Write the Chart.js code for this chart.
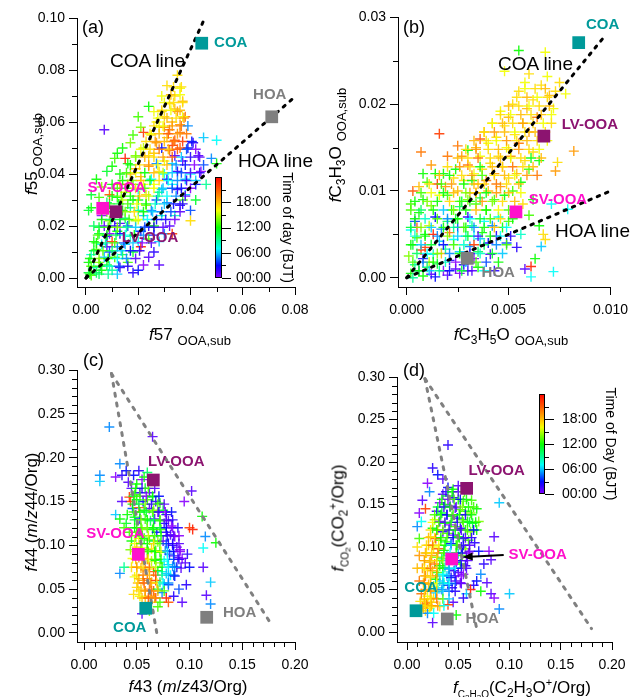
<!DOCTYPE html>
<html>
<head>
<meta charset="utf-8">
<script src="https://cdn.jsdelivr.net/npm/chart.js@4/dist/chart.umd.min.js"></script>
<style>
  body { margin: 0; background: #fff; }
  #fig { position: relative; width: 635px; height: 697px; overflow: hidden;
         font-family: 'Liberation Sans', Arial, sans-serif; color: #000; }
  #fig canvas { position: absolute; left: 0; top: 0; }
  .t { position: absolute; white-space: nowrap; line-height: 1; }
  .l { transform: translate(0, -50%); }
  .c { transform: translate(-50%, -50%); }
  .v { transform: translate(-50%, -50%) rotate(-90deg); }
  .pl { font-size: 18px; }
  .ln { font-size: 19px; }
  .ax { font-size: 17px; }
  .ax sub { font-size: 12px; vertical-align: baseline; position: relative; top: 4px; }
  .ax sup { font-size: 11px; vertical-align: baseline; position: relative; top: -7px; }
  .ax .sb { font-size: 13px; position: relative; top: 5px; margin-left: 5px; }
  .ax .fs { font-size: 10px; vertical-align: baseline; position: relative; top: 5px; }
  .ax .fs sub { font-size: 8px; top: 2px; }
</style>
</head>
<body>
<div id="fig">
  <canvas id="chartA" width="635" height="697"></canvas>
  <canvas id="chartB" width="635" height="697"></canvas>
  <canvas id="chartC" width="635" height="697"></canvas>
  <canvas id="chartD" width="635" height="697"></canvas>

  <div class="t l pl" style="left:82px;top:27px">(a)</div>
  <div class="t l pl" style="left:403px;top:27px">(b)</div>
  <div class="t l pl" style="left:83px;top:360px">(c)</div>
  <div class="t l pl" style="left:403px;top:370px">(d)</div>

  <div class="t l ln" style="left:110px;top:60px">COA line</div>
  <div class="t l ln" style="left:238px;top:160px">HOA line</div>
  <div class="t l ln" style="left:498px;top:63px">COA line</div>
  <div class="t l ln" style="left:555px;top:230px">HOA line</div>

  <div class="t c ax" style="left:190px;top:334px"><i>f</i>57<span class="sb">OOA,sub</span></div>
  <div class="t v ax" style="left:31px;top:154px"><i>f</i>55<span class="sb">OOA,sub</span></div>
  <div class="t c ax" style="left:511px;top:334px"><i>f</i>C<sub>3</sub>H<sub>5</sub>O<span class="sb">OOA,sub</span></div>
  <div class="t v ax" style="left:335px;top:145px"><i>f</i>C<sub>3</sub>H<sub>3</sub>O<span class="sb">OOA,sub</span></div>
  <div class="t c ax" style="left:188px;top:686px"><i>f</i>43 (<i>m</i>/<i>z</i>43/Org)</div>
  <div class="t v ax" style="left:31px;top:512px"><i>f</i>44 (<i>m</i>/<i>z</i>44/Org)</div>
  <div class="t c ax" style="left:522px;top:687px"><i>f</i><span class="fs">C<sub>2</sub>H<sub>3</sub>O</span>(C<sub>2</sub>H<sub>3</sub>O<sup>+</sup>/Org)</div>
  <div class="t v ax" style="left:338px;top:518px"><i>f</i><span class="fs">CO<sub>2</sub></span>(CO<sub>2</sub><sup>+</sup>/Org)</div>
</div>

<script>
// ---- factor profiles (same order in every panel) ----
const factorNames = ['COA', 'HOA', 'SV-OOA', 'LV-OOA'];
const factorColors = ['#009a9a', '#7f7f7f', '#ff10cc', '#8c1470'];

// colour bar ticks
const cbHours = [0, 6, 12, 18];
const cbLabels = ['00:00', '06:00', '12:00', '18:00'];

// ---- (a) f55 vs f57 ----
const aFactorX = [0.0443, 0.0711, 0.0064, 0.0115];
const aFactorY = [0.0903, 0.0620, 0.0268, 0.0255];
const aCoaLine = [[0, 0], [0.0455, 0.100]];
const aHoaLine = [[0, 0], [0.080, 0.0697]];
const aXTicks = [0, 0.02, 0.04, 0.06, 0.08];
const aXMinor = [0.01, 0.03, 0.05, 0.07];
const aYTicks = [0, 0.02, 0.04, 0.06, 0.08, 0.10];
const aYMinor = [0.01, 0.03, 0.05, 0.07, 0.09];
// [f57, f55, hour of day]
const aCloud = [
  [0.001,0.002,11],[0.002,0.001,13],[0.003,0.004,9],[0.001,0.006,12],[0.004,0.002,10],[0.005,0.006,14],
  [0.002,0.009,8],[0.006,0.003,12],[0.007,0.008,6],[0.004,0.011,13],[0.008,0.005,11],[0.009,0.010,4],
  [0.003,0.014,12],[0.006,0.013,7],[0.010,0.003,9],[0.011,0.008,13],[0.012,0.012,5],[0.005,0.017,11],
  [0.008,0.016,3],[0.013,0.004,2],[0.014,0.009,10],[0.010,0.014,22],[0.007,0.020,1],[0.012,0.018,12],
  [0.015,0.013,6],[0.016,0.006,13],[0.003,0.020,10],[0.009,0.022,14],[0.017,0.016,8],[0.013,0.021,1],
  [0.006,0.024,0],[0.018,0.010,11],[0.011,0.025,13],[0.016,0.020,4],[0.020,0.014,7],[0.002,0.027,12],
  [0.001,0.026,11],[0.014,0.026,12],[0.019,0.022,15],[0.008,0.029,10],[0.021,0.018,3],[0.005,0.031,13],
  [0.017,0.027,9],[0.022,0.024,6],[0.012,0.031,12],[0.024,0.020,2],[0.015,0.033,16],[0.020,0.030,11],
  [0.010,0.036,12],[0.025,0.026,5],[0.018,0.036,13],[0.023,0.032,17],[0.008,0.041,11],[0.013,0.040,12],
  [0.027,0.030,4],[0.021,0.039,18],[0.016,0.044,12],[0.026,0.036,16],[0.011,0.046,13],[0.019,0.047,14],
  [0.029,0.034,6],[0.024,0.043,19],[0.014,0.050,12],[0.031,0.038,3],[0.028,0.041,17],[0.022,0.050,15],
  [0.018,0.055,13],[0.026,0.048,18],[0.033,0.036,7],[0.030,0.045,16],[0.021,0.058,14],[0.035,0.041,2],
  [0.032,0.049,20],[0.025,0.055,17],[0.028,0.058,16],[0.034,0.053,21],[0.037,0.045,1],[0.030,0.062,17],
  [0.036,0.056,20],[0.026,0.064,16],[0.033,0.060,18],[0.039,0.050,3],[0.032,0.067,17],[0.035,0.064,19],
  [0.029,0.070,16],[0.034,0.070,17],[0.037,0.068,18],[0.031,0.074,17],[0.035,0.078,17],[0.036,0.073,16],
  [0.038,0.062,20],
  [0.041,0.052,2],[0.043,0.047,1],[0.045,0.054,6],[0.050,0.053,7],[0.048,0.046,5],[0.050,0.044,12],
  [0.044,0.041,0],[0.040,0.040,7],[0.042,0.036,3],[0.038,0.032,6],[0.036,0.028,2],[0.040,0.026,4],
  [0.034,0.024,8],[0.032,0.020,1],[0.030,0.017,5],[0.028,0.014,6],[0.026,0.010,2],[0.024,0.008,1],
  [0.022,0.005,0],[0.020,0.003,3],[0.018,0.002,2],[0.028,0.005,1],[0.040,0.022,17],[0.033,0.017,22],
  [0.037,0.030,13],[0.046,0.036,9],[0.042,0.030,11],[0.029,0.024,8],[0.031,0.029,5],[0.035,0.034,2],
  [0.038,0.038,6],[0.026,0.020,12],[0.024,0.015,13],[0.021,0.012,23],
  [0.007,0.057,1],[0.010,0.043,12],[0.004,0.038,12],[0.002,0.032,11],[0.006,0.035,14],[0.012,0.048,12],
  [0.017,0.052,14],[0.020,0.062,13],[0.024,0.066,12],[0.022,0.056,22],[0.015,0.046,23],[0.009,0.032,21],
  [0.013,0.036,19],[0.017,0.040,18],
  [0.020,0.026,9],[0.022,0.036,16],[0.023,0.028,14],[0.025,0.038,7],[0.027,0.044,5],[0.029,0.050,3],
  [0.031,0.054,18],[0.033,0.044,6],[0.027,0.052,19],[0.024,0.047,17],[0.019,0.042,18],[0.016,0.036,20],
  [0.014,0.030,15],[0.011,0.020,2],[0.009,0.017,0],[0.008,0.012,1],[0.013,0.017,3],[0.015,0.023,10],
  [0.018,0.030,12],[0.020,0.034,8],[0.028,0.033,9],[0.030,0.040,7],[0.034,0.047,1],[0.036,0.050,21],
  [0.032,0.057,20],[0.034,0.065,18],[0.029,0.064,17],[0.027,0.060,16],[0.030,0.058,19],[0.033,0.051,22],
  [0.036,0.059,19],[0.037,0.062,16],
  // denser core
  [0.0015,0.0015,12],[0.005,0.0015,10],[0.0085,0.0015,9],[0.012,0.0015,6],
  [0.002,0.0045,13],[0.0055,0.0045,11],[0.009,0.0045,8],[0.0125,0.0045,4],[0.016,0.0045,2],
  [0.0015,0.0075,12],[0.005,0.0075,14],[0.0085,0.0075,12],[0.012,0.0075,7],[0.0155,0.0075,5],[0.019,0.0075,1],
  [0.003,0.0105,11],[0.0065,0.0105,13],[0.010,0.0105,10],[0.0135,0.0105,6],[0.017,0.0105,3],[0.0205,0.0105,2],
  [0.004,0.0135,12],[0.0075,0.0135,9],[0.011,0.0135,13],[0.0145,0.0135,4],[0.018,0.0135,6],[0.0215,0.0135,0],[0.025,0.0135,1],
  [0.0045,0.0165,13],[0.008,0.0165,12],[0.0115,0.0165,10],[0.015,0.0165,7],[0.0185,0.0165,12],[0.022,0.0165,5],[0.026,0.0165,3],
  [0.005,0.0195,11],[0.0085,0.0195,13],[0.012,0.0195,14],[0.0155,0.0195,9],[0.019,0.0195,6],[0.0225,0.0195,4],[0.026,0.0195,2],[0.0295,0.0195,1],
  [0.006,0.0225,12],[0.0095,0.0225,10],[0.013,0.0225,11],[0.0165,0.0225,13],[0.020,0.0225,16],[0.0235,0.0225,7],[0.027,0.0225,3],[0.0305,0.0225,2],[0.034,0.0225,0],
  [0.008,0.0255,13],[0.0115,0.0255,12],[0.015,0.0255,14],[0.0185,0.0255,17],[0.022,0.0255,12],[0.0255,0.0255,6],[0.029,0.0255,5],[0.0325,0.0255,4],[0.036,0.0255,1],
  [0.009,0.0285,12],[0.0125,0.0285,11],[0.016,0.0285,13],[0.0195,0.0285,16],[0.023,0.0285,12],[0.0265,0.0285,8],[0.030,0.0285,6],[0.0335,0.0285,3],[0.037,0.0285,2],
  [0.010,0.0315,12],[0.0135,0.0315,14],[0.017,0.0315,12],[0.0205,0.0315,18],[0.024,0.0315,15],[0.0275,0.0315,9],[0.031,0.0315,7],[0.0345,0.0315,5],[0.038,0.0315,1],
  [0.012,0.0345,13],[0.0155,0.0345,11],[0.019,0.0345,17],[0.0225,0.0345,13],[0.026,0.0345,16],[0.0295,0.0345,6],[0.033,0.0345,4],[0.0365,0.0345,3],[0.040,0.0345,0],
  [0.014,0.0375,12],[0.0175,0.0375,14],[0.021,0.0375,18],[0.0245,0.0375,12],[0.028,0.0375,17],[0.0315,0.0375,7],[0.035,0.0375,5],[0.0385,0.0375,2],[0.042,0.0375,6],
  [0.0155,0.0405,13],[0.019,0.0405,16],[0.0225,0.0405,12],[0.026,0.0405,18],[0.0295,0.0405,15],[0.033,0.0405,6],[0.0365,0.0405,4],[0.040,0.0405,1],[0.0435,0.0405,2],
  [0.017,0.0435,12],[0.0205,0.0435,17],[0.024,0.0435,19],[0.0275,0.0435,16],[0.031,0.0435,18],[0.0345,0.0435,5],[0.038,0.0435,3],[0.0415,0.0435,0],[0.045,0.0435,4],
  [0.019,0.0465,14],[0.0225,0.0465,18],[0.026,0.0465,17],[0.0295,0.0465,19],[0.033,0.0465,21],[0.0365,0.0465,6],[0.040,0.0465,2],[0.0435,0.0465,1],
  [0.021,0.0495,16],[0.0245,0.0495,17],[0.028,0.0495,20],[0.0315,0.0495,18],[0.035,0.0495,21],[0.0385,0.0495,4],[0.042,0.0495,0],
  [0.023,0.0525,17],[0.0265,0.0525,19],[0.030,0.0525,18],[0.0335,0.0525,20],[0.037,0.0525,22],[0.0405,0.0525,3],
  [0.0245,0.0555,16],[0.028,0.0555,18],[0.0315,0.0555,21],[0.035,0.0555,19],[0.0385,0.0555,20],
  [0.026,0.0585,17],[0.0295,0.0585,16],[0.033,0.0585,19],[0.0365,0.0585,20],[0.039,0.0585,5],
  [0.0275,0.0615,16],[0.031,0.0615,18],[0.0345,0.0615,17],[0.0375,0.0615,19],
  [0.029,0.0645,17],[0.0325,0.0645,16],[0.036,0.0645,18],
  [0.030,0.0675,16],[0.0335,0.0675,17],[0.037,0.0675,17],
  [0.0325,0.0705,18],[0.036,0.0705,16],[0.0335,0.0735,17],[0.0365,0.0735,17]
];

// ---- (b) fC3H3O vs fC3H5O ----
const bFactorX = [0.00844, 0.00297, 0.00536, 0.00673];
const bFactorY = [0.0271, 0.00224, 0.0076, 0.01633];
const bCoaLine = [[0, 0], [0.0097, 0.0278]];
const bHoaLine = [[0, 0], [0.0100, 0.0100]];
const bXTicks = [0, 0.005, 0.010];
const bXMinor = [0.0025, 0.0075];
const bYTicks = [0, 0.01, 0.02, 0.03];
const bYMinor = [0.005, 0.015, 0.025];
// [fC3H5O, fC3H3O, hour of day]
const bCloud = [
  [0.0002,0.0005,12],[0.0004,0.0015,9],[0.0001,0.0025,14],[0.0006,0.0008,5],[0.0003,0.0038,11],[0.0008,0.0022,2],
  [0.0005,0.0046,13],[0.0010,0.0012,10],[0.0002,0.0055,7],[0.0007,0.0032,22],[0.0012,0.0004,1],[0.0009,0.0050,12],
  [0.0004,0.0065,4],[0.0013,0.0027,8],[0.0011,0.0060,15],[0.0006,0.0075,12],[0.0015,0.0016,11],[0.0016,0.0042,6],
  [0.0002,0.0085,13],[0.0014,0.0070,3],[0.0018,0.0008,0],[0.0008,0.0090,12],[0.0019,0.0033,9],[0.0017,0.0056,5],
  [0.0003,0.0100,21],[0.0012,0.0083,14],[0.0021,0.0020,2],[0.0020,0.0065,10],[0.0006,0.0105,18],[0.0023,0.0044,7],
  [0.0016,0.0095,16],[0.0024,0.0010,1],[0.0022,0.0078,12],[0.0010,0.0110,13],[0.0026,0.0030,6],[0.0025,0.0058,4],
  [0.0019,0.0105,19],[0.0028,0.0015,3],[0.0027,0.0088,11],[0.0029,0.0048,8],[0.0014,0.0120,12],[0.0031,0.0036,5],
  [0.0030,0.0070,2],[0.0023,0.0115,17],[0.0033,0.0022,0],[0.0032,0.0060,9],[0.0034,0.0085,13],[0.0036,0.0045,6],
  [0.0035,0.0030,10],[0.0038,0.0065,7],[0.0037,0.0052,12],[0.0040,0.0040,3],[0.0039,0.0078,14],[0.0042,0.0060,5],
  [0.0041,0.0027,1],[0.0044,0.0048,2],[0.0045,0.0070,8],[0.0047,0.0058,12],[0.0049,0.0040,4],[0.0050,0.0065,13],
  [0.0003,0.0000,9],[0.0008,0.0002,12],[0.0014,0.0001,3],[0.0020,0.0003,1],[0.0026,0.0005,0],[0.0030,0.0008,2],
  [0.0035,0.0012,12],[0.0009,0.0035,22],[0.0013,0.0050,23],[0.0005,0.0058,21],[0.0021,0.0052,20],[0.0017,0.0028,18],
  [0.0028,0.0038,16],[0.0011,0.0018,15],[0.0024,0.0068,11],[0.0029,0.0058,12],[0.0033,0.0048,7],
  [0.0025,0.0100,18],[0.0028,0.0112,17],[0.0031,0.0098,19],[0.0033,0.0120,16],[0.0030,0.0130,20],[0.0035,0.0108,18],
  [0.0037,0.0125,17],[0.0027,0.0140,19],[0.0036,0.0140,16],[0.0039,0.0112,20],[0.0041,0.0132,17],[0.0034,0.0150,18],
  [0.0043,0.0120,19],[0.0040,0.0155,16],[0.0045,0.0140,17],[0.0038,0.0168,18],[0.0047,0.0128,20],[0.0044,0.0162,17],
  [0.0049,0.0150,16],[0.0042,0.0178,18],[0.0048,0.0175,17],[0.0051,0.0140,19],[0.0046,0.0192,16],[0.0053,0.0165,17],
  [0.0050,0.0185,18],[0.0055,0.0155,20],[0.0052,0.0200,17],[0.0057,0.0178,16],[0.0055,0.0215,17],[0.0059,0.0195,18],
  [0.0060,0.0168,19],[0.0058,0.0225,16],[0.0062,0.0205,17],[0.0064,0.0185,20],[0.0066,0.0222,17],[0.0069,0.0232,16],
  [0.0070,0.0210,18],[0.0073,0.0215,17],[0.0072,0.0195,16],[0.0068,0.0260,16],[0.0060,0.0235,17],[0.0055,0.0262,12],
  [0.0048,0.0238,16],
  [0.0015,0.0108,22],[0.0018,0.0120,12],[0.0020,0.0095,13],[0.0024,0.0125,12],[0.0026,0.0082,10],[0.0030,0.0090,14],
  [0.0032,0.0112,12],[0.0034,0.0098,21],[0.0036,0.0092,11],[0.0040,0.0100,18],[0.0043,0.0090,13],[0.0046,0.0105,19],
  [0.0048,0.0095,12],[0.0050,0.0115,17],[0.0052,0.0100,13],[0.0054,0.0120,18],[0.0056,0.0110,12],[0.0058,0.0135,17],
  [0.0060,0.0125,13],[0.0062,0.0145,17],[0.0064,0.0118,20],[0.0065,0.0135,12],[0.0020,0.0140,20],[0.0030,0.0147,12],
  [0.0025,0.0152,20],[0.0036,0.0160,21],[0.0012,0.0130,19],[0.0008,0.0120,12],
  [0.0016,0.0166,22],[0.0007,0.0145,20],[0.0082,0.0146,19],[0.0061,0.0013,23],[0.0058,0.0010,1],[0.0063,0.0022,12],
  [0.0061,0.0001,7],[0.0072,0.0007,7],[0.0071,0.0085,7],[0.0079,0.0079,7],[0.0067,0.0050,17],[0.0068,0.0044,17],
  [0.0074,0.0133,17],[0.0073,0.0123,19],[0.0066,0.0036,6],[0.0065,0.0060,12],[0.0060,0.0072,13],[0.0056,0.0050,8],
  [0.0054,0.0035,2],[0.0062,0.0090,12],[0.0057,0.0085,17],[0.0075,0.0225,17],[0.0078,0.0212,16],
  // denser core
  [0.0006,0.0008,12],[0.0011,0.0008,6],[0.0016,0.0008,9],[0.0021,0.0008,3],[0.0027,0.0008,11],[0.0032,0.0008,1],[0.0038,0.0008,7],[0.0043,0.0008,2],
  [0.0003,0.0018,13],[0.0008,0.0018,5],[0.0013,0.0018,12],[0.0019,0.0018,8],[0.0024,0.0018,0],[0.0029,0.0018,6],[0.0034,0.0018,13],[0.0039,0.0018,4],[0.0045,0.0018,12],
  [0.0005,0.0028,10],[0.0010,0.0028,7],[0.0015,0.0028,14],[0.0021,0.0028,5],[0.0026,0.0028,12],[0.0031,0.0028,2],[0.0036,0.0028,8],[0.0042,0.0028,11],[0.0047,0.0028,6],
  [0.0002,0.0038,12],[0.0007,0.0038,6],[0.0012,0.0038,11],[0.0018,0.0038,3],[0.0023,0.0038,13],[0.0028,0.0038,7],[0.0033,0.0038,22],[0.0038,0.0038,10],[0.0044,0.0038,5],[0.0049,0.0038,13],
  [0.0004,0.0048,8],[0.0009,0.0048,12],[0.0015,0.0048,5],[0.0020,0.0048,14],[0.0025,0.0048,6],[0.0030,0.0048,11],[0.0035,0.0048,1],[0.0041,0.0048,12],[0.0046,0.0048,7],[0.0051,0.0048,2],
  [0.0002,0.0058,11],[0.0007,0.0058,14],[0.0012,0.0058,6],[0.0018,0.0058,12],[0.0023,0.0058,9],[0.0028,0.0058,13],[0.0033,0.0058,5],[0.0038,0.0058,12],[0.0043,0.0058,18],[0.0049,0.0058,7],
  [0.0004,0.0068,12],[0.0009,0.0068,8],[0.0015,0.0068,13],[0.0020,0.0068,5],[0.0025,0.0068,12],[0.0031,0.0068,7],[0.0036,0.0068,11],[0.0041,0.0068,13],[0.0046,0.0068,17],[0.0052,0.0068,12],
  [0.0002,0.0078,13],[0.0007,0.0078,10],[0.0013,0.0078,12],[0.0018,0.0078,6],[0.0023,0.0078,14],[0.0029,0.0078,12],[0.0034,0.0078,18],[0.0039,0.0078,12],[0.0045,0.0078,16],[0.0050,0.0078,13],
  [0.0004,0.0088,12],[0.0010,0.0088,14],[0.0015,0.0088,12],[0.0021,0.0088,17],[0.0026,0.0088,13],[0.0031,0.0088,12],[0.0037,0.0088,19],[0.0042,0.0088,14],[0.0047,0.0088,17],[0.0053,0.0088,18],
  [0.0007,0.0098,13],[0.0012,0.0098,16],[0.0018,0.0098,12],[0.0023,0.0098,18],[0.0029,0.0098,14],[0.0034,0.0098,17],[0.0039,0.0098,12],[0.0044,0.0098,19],[0.0050,0.0098,18],[0.0056,0.0098,16],
  [0.0011,0.0108,17],[0.0017,0.0108,13],[0.0022,0.0108,19],[0.0028,0.0108,12],[0.0033,0.0108,18],[0.0038,0.0108,17],[0.0044,0.0108,20],[0.0049,0.0108,17],[0.0055,0.0108,18],
  [0.0016,0.0118,18],[0.0021,0.0118,12],[0.0027,0.0118,17],[0.0032,0.0118,19],[0.0037,0.0118,13],[0.0043,0.0118,17],[0.0048,0.0118,18],[0.0053,0.0118,16],[0.0059,0.0118,19],
  [0.0020,0.0128,17],[0.0026,0.0128,19],[0.0031,0.0128,17],[0.0036,0.0128,12],[0.0042,0.0128,18],[0.0047,0.0128,17],[0.0052,0.0128,20],[0.0057,0.0128,17],[0.0062,0.0128,18],
  [0.0025,0.0138,18],[0.0030,0.0138,17],[0.0035,0.0138,20],[0.0041,0.0138,17],[0.0046,0.0138,18],[0.0051,0.0138,16],[0.0056,0.0138,17],[0.0061,0.0138,12],[0.0066,0.0138,18],
  [0.0029,0.0148,17],[0.0034,0.0148,19],[0.0040,0.0148,17],[0.0045,0.0148,18],[0.0050,0.0148,17],[0.0055,0.0148,19],[0.0060,0.0148,17],[0.0065,0.0148,16],
  [0.0033,0.0158,18],[0.0039,0.0158,17],[0.0044,0.0158,16],[0.0049,0.0158,19],[0.0054,0.0158,17],[0.0059,0.0158,18],[0.0064,0.0158,17],[0.0069,0.0158,16],
  [0.0038,0.0168,17],[0.0043,0.0168,19],[0.0048,0.0168,18],[0.0053,0.0168,16],[0.0058,0.0168,17],[0.0063,0.0168,18],[0.0068,0.0168,17],
  [0.0042,0.0178,16],[0.0047,0.0178,18],[0.0052,0.0178,17],[0.0057,0.0178,19],[0.0062,0.0178,17],[0.0067,0.0178,16],[0.0071,0.0178,17],
  [0.0046,0.0188,17],[0.0051,0.0188,16],[0.0056,0.0188,18],[0.0061,0.0188,17],[0.0066,0.0188,18],[0.0071,0.0188,16],
  [0.0050,0.0198,18],[0.0055,0.0198,17],[0.0060,0.0198,16],[0.0065,0.0198,17],[0.0070,0.0198,18],
  [0.0054,0.0208,17],[0.0059,0.0208,18],[0.0064,0.0208,16],[0.0069,0.0208,17],
  [0.0058,0.0218,16],[0.0063,0.0218,17],[0.0068,0.0218,18]
];

// ---- (c) f44 vs f43 ----
const cFactorX = [0.0585, 0.1163, 0.0515, 0.0657];
const cFactorY = [0.0282, 0.0179, 0.0897, 0.1745];
const cLeftLine = [[0.026, 0.296], [0.069, 0.0]];
const cRightLine = [[0.026, 0.296], [0.178, 0.009]];
const cXTicks = [0, 0.05, 0.10, 0.15, 0.20];
const cYTicks = [0, 0.05, 0.10, 0.15, 0.20, 0.25, 0.30];
const cXMinor = [0.01,0.02,0.03,0.04,0.06,0.07,0.08,0.09,0.11,0.12,0.13,0.14,0.16,0.17,0.18,0.19];
const cYMinor = [0.01,0.02,0.03,0.04,0.06,0.07,0.08,0.09,0.11,0.12,0.13,0.14,0.16,0.17,0.18,0.19,
                 0.21,0.22,0.23,0.24,0.26,0.27,0.28,0.29];
// [f43, f44, hour of day]
const cCloud = [
  [0.045,0.165,1],[0.050,0.170,12],[0.055,0.175,0],[0.048,0.158,13],[0.053,0.160,2],[0.058,0.165,11],
  [0.062,0.160,1],[0.044,0.150,22],[0.050,0.152,12],[0.056,0.150,3],[0.060,0.152,13],[0.065,0.155,10],
  [0.068,0.150,2],[0.072,0.148,12],[0.046,0.142,4],[0.052,0.143,21],[0.057,0.140,12],[0.062,0.142,1],
  [0.066,0.140,14],[0.070,0.138,0],[0.075,0.140,11],[0.078,0.135,2],[0.048,0.132,11],[0.053,0.130,3],
  [0.058,0.130,13],[0.063,0.128,10],[0.067,0.130,1],[0.072,0.128,12],[0.076,0.125,2],[0.080,0.128,1],
  [0.083,0.122,0],[0.050,0.120,12],[0.055,0.118,14],[0.060,0.120,9],[0.065,0.118,12],[0.069,0.115,3],
  [0.073,0.118,13],[0.078,0.115,2],[0.082,0.112,1],[0.086,0.110,0],[0.052,0.108,16],[0.057,0.108,12],
  [0.062,0.106,13],[0.066,0.105,11],[0.070,0.104,14],[0.075,0.105,1],[0.080,0.102,3],[0.084,0.100,2],
  [0.088,0.098,1],[0.091,0.095,0],[0.050,0.098,18],[0.055,0.097,16],[0.060,0.095,12],[0.064,0.096,17],
  [0.068,0.094,13],[0.072,0.092,12],[0.077,0.094,5],[0.081,0.090,4],[0.085,0.088,2],[0.089,0.086,1],
  [0.093,0.085,0],[0.052,0.086,19],[0.056,0.085,17],[0.060,0.084,20],[0.064,0.082,15],[0.068,0.083,12],
  [0.072,0.080,14],[0.076,0.082,7],[0.080,0.078,6],[0.084,0.076,5],[0.088,0.075,3],[0.092,0.074,1],
  [0.050,0.075,17],[0.054,0.074,18],[0.058,0.072,20],[0.062,0.073,17],[0.066,0.070,21],[0.070,0.071,12],
  [0.074,0.070,8],[0.078,0.068,6],[0.082,0.066,7],[0.086,0.065,3],[0.048,0.064,16],[0.052,0.062,18],
  [0.056,0.060,19],[0.060,0.062,20],[0.064,0.058,18],[0.068,0.060,22],[0.072,0.058,10],[0.076,0.056,6],
  [0.080,0.055,4],[0.050,0.052,17],[0.054,0.050,18],[0.058,0.048,19],[0.062,0.050,20],[0.066,0.048,21],
  [0.070,0.050,12],[0.074,0.046,5],[0.047,0.044,17],[0.053,0.042,16],[0.058,0.040,18],[0.063,0.042,19],
  [0.068,0.040,22],[0.072,0.035,13],[0.078,0.040,23],
  [0.047,0.180,3],[0.052,0.185,2],[0.057,0.178,12],[0.042,0.172,1],[0.060,0.183,10],[0.043,0.155,22],
  [0.041,0.135,12],[0.040,0.125,11],[0.043,0.115,13],[0.045,0.105,12],[0.044,0.095,14],[0.046,0.085,16],
  [0.045,0.075,17],
  [0.024,0.235,5],[0.065,0.224,1],[0.015,0.180,5],[0.015,0.173,6],[0.030,0.178,0],[0.034,0.193,5],
  [0.040,0.185,3],[0.036,0.180,2],[0.036,0.150,1],[0.030,0.135,6],[0.034,0.130,12],[0.038,0.120,13],
  [0.034,0.068,5],[0.038,0.075,9],[0.102,0.162,1],[0.095,0.150,0],[0.112,0.133,12],[0.100,0.120,22],
  [0.103,0.118,23],[0.115,0.110,5],[0.125,0.103,12],[0.113,0.097,7],[0.098,0.090,2],[0.096,0.080,1],
  [0.100,0.075,3],[0.113,0.075,1],[0.120,0.058,6],[0.116,0.043,1],[0.120,0.033,5],[0.093,0.035,1],
  [0.097,0.055,2],[0.090,0.050,4],[0.085,0.042,2],[0.080,0.035,21],[0.070,0.030,13],[0.055,0.022,1],
  [0.062,0.025,14],[0.064,0.035,17],
  // denser core
  [0.049,0.165,12],[0.055,0.165,2],[0.061,0.165,13],[0.067,0.165,1],
  [0.047,0.156,11],[0.053,0.156,13],[0.059,0.156,0],[0.065,0.156,12],[0.071,0.156,3],
  [0.046,0.147,12],[0.052,0.147,10],[0.058,0.147,14],[0.064,0.147,2],[0.070,0.147,13],[0.076,0.147,1],
  [0.047,0.138,13],[0.053,0.138,12],[0.059,0.138,11],[0.065,0.138,13],[0.071,0.138,2],[0.077,0.138,0],[0.083,0.138,3],
  [0.048,0.129,11],[0.054,0.129,14],[0.060,0.129,12],[0.066,0.129,10],[0.072,0.129,13],[0.078,0.129,1],[0.084,0.129,2],
  [0.048,0.120,12],[0.054,0.120,13],[0.060,0.120,14],[0.066,0.120,12],[0.072,0.120,11],[0.078,0.120,3],[0.084,0.120,0],[0.089,0.120,2],
  [0.049,0.111,14],[0.055,0.111,12],[0.061,0.111,15],[0.067,0.111,13],[0.073,0.111,12],[0.079,0.111,2],[0.085,0.111,1],[0.090,0.111,0],
  [0.048,0.102,16],[0.054,0.102,13],[0.060,0.102,12],[0.066,0.102,17],[0.072,0.102,13],[0.078,0.102,4],[0.084,0.102,2],[0.090,0.102,1],
  [0.049,0.093,17],[0.055,0.093,15],[0.061,0.093,13],[0.067,0.093,12],[0.073,0.093,16],[0.079,0.093,6],[0.085,0.093,3],[0.091,0.093,0],
  [0.049,0.084,18],[0.055,0.084,19],[0.061,0.084,16],[0.067,0.084,13],[0.073,0.084,12],[0.079,0.084,7],[0.085,0.084,4],[0.090,0.084,2],
  [0.050,0.075,19],[0.056,0.075,17],[0.062,0.075,20],[0.068,0.075,15],[0.074,0.075,12],[0.080,0.075,7],[0.086,0.075,5],
  [0.050,0.066,17],[0.056,0.066,20],[0.062,0.066,18],[0.068,0.066,21],[0.074,0.066,9],[0.080,0.066,6],[0.085,0.066,4],
  [0.051,0.057,18],[0.057,0.057,21],[0.063,0.057,19],[0.069,0.057,17],[0.075,0.057,7],[0.080,0.057,5],
  [0.052,0.048,17],[0.058,0.048,19],[0.064,0.048,20],[0.070,0.048,18],[0.076,0.048,13],
  [0.055,0.040,18],[0.061,0.040,21],[0.067,0.040,19]
];

// ---- (d) fCO2 vs fC2H3O ----
const dFactorX = [0.0088, 0.0393, 0.0436, 0.0582];
const dFactorY = [0.0250, 0.0153, 0.0859, 0.1690];
const dLeftLine = [[0.0175, 0.298], [0.068, 0.004]];
const dRightLine = [[0.0175, 0.298], [0.180, 0.004]];
const dXTicks = cXTicks;
const dYTicks = cYTicks;
const dXMinor = cXMinor;
const dYMinor = cYMinor;
// [fC2H3O, fCO2, hour of day]
const dCloud = [
  [0.015,0.030,18],[0.018,0.025,17],[0.020,0.032,19],[0.022,0.028,16],[0.017,0.038,17],[0.024,0.035,18],
  [0.014,0.045,20],[0.020,0.042,16],[0.026,0.040,17],[0.018,0.050,19],[0.023,0.048,21],[0.028,0.046,6],
  [0.016,0.058,17],[0.021,0.056,18],[0.026,0.054,15],[0.030,0.052,7],[0.034,0.050,5],[0.018,0.066,20],
  [0.023,0.064,17],[0.028,0.062,12],[0.032,0.060,6],[0.036,0.058,8],[0.040,0.055,4],[0.044,0.052,2],
  [0.015,0.075,19],[0.020,0.073,17],[0.025,0.072,18],[0.030,0.070,13],[0.035,0.068,7],[0.039,0.066,6],
  [0.043,0.064,3],[0.048,0.060,1],[0.052,0.058,0],[0.017,0.084,16],[0.022,0.082,18],[0.027,0.080,20],
  [0.032,0.078,12],[0.037,0.076,9],[0.041,0.074,5],[0.046,0.072,2],[0.050,0.070,1],[0.055,0.068,0],
  [0.019,0.093,17],[0.024,0.090,19],[0.029,0.088,14],[0.034,0.086,11],[0.039,0.090,7],[0.048,0.082,4],
  [0.052,0.080,12],[0.057,0.078,2],[0.021,0.102,18],[0.026,0.100,16],[0.031,0.098,21],[0.036,0.096,12],
  [0.050,0.092,6],[0.054,0.090,13],[0.058,0.088,1],[0.023,0.112,17],[0.028,0.110,22],[0.033,0.108,13],
  [0.038,0.106,11],[0.043,0.104,3],[0.048,0.102,12],[0.053,0.100,2],[0.057,0.098,14],[0.061,0.095,1],
  [0.025,0.122,12],[0.030,0.120,18],[0.035,0.118,2],[0.040,0.116,13],[0.045,0.114,1],[0.050,0.112,12],
  [0.055,0.110,3],[0.060,0.108,13],[0.027,0.132,15],[0.032,0.130,1],[0.037,0.128,12],[0.042,0.126,0],
  [0.047,0.124,13],[0.052,0.122,2],[0.057,0.120,12],[0.062,0.118,14],[0.029,0.142,2],[0.034,0.140,11],
  [0.039,0.138,1],[0.044,0.136,12],[0.049,0.134,3],[0.054,0.132,13],[0.059,0.130,12],[0.064,0.128,11],
  [0.032,0.152,0],[0.037,0.150,12],[0.042,0.148,2],[0.047,0.146,1],[0.052,0.144,13],[0.057,0.142,12],
  [0.062,0.140,14],[0.035,0.162,1],[0.040,0.160,11],[0.045,0.158,2],[0.050,0.156,12],[0.055,0.154,13],
  [0.040,0.170,3],[0.045,0.168,12],[0.050,0.172,1],
  [0.040,0.220,2],[0.025,0.193,2],[0.030,0.185,3],[0.035,0.180,1],[0.020,0.175,0],[0.022,0.165,5],
  [0.015,0.155,1],[0.018,0.145,22],[0.012,0.140,0],[0.010,0.124,5],[0.014,0.130,7],[0.012,0.110,13],
  [0.010,0.100,17],[0.012,0.090,19],[0.010,0.075,18],[0.012,0.060,20],[0.020,0.022,5],[0.025,0.011,1],
  [0.048,0.020,12],[0.090,0.152,6],[0.085,0.112,1],[0.080,0.095,0],[0.082,0.085,1],[0.075,0.080,2],
  [0.072,0.068,5],[0.068,0.060,3],[0.065,0.055,2],[0.078,0.058,1],[0.072,0.048,12],[0.100,0.045,6],
  [0.090,0.027,5],[0.082,0.045,1],[0.085,0.040,0],[0.062,0.050,23],[0.058,0.045,6],[0.055,0.040,2],
  [0.045,0.035,1],[0.040,0.032,22],[0.032,0.030,17],[0.026,0.022,7],[0.063,0.155,13],[0.068,0.145,12],
  [0.070,0.130,14],[0.068,0.120,12],[0.066,0.105,2],[0.070,0.095,3],
  [0.016,0.028,18],[0.019,0.034,20],[0.023,0.030,17],[0.013,0.036,17],
  // denser core
  [0.038,0.165,2],[0.044,0.165,12],[0.050,0.165,1],[0.056,0.165,13],
  [0.034,0.156,12],[0.040,0.156,0],[0.046,0.156,13],[0.052,0.156,3],[0.058,0.156,12],
  [0.030,0.147,11],[0.036,0.147,2],[0.042,0.147,12],[0.048,0.147,1],[0.054,0.147,14],[0.060,0.147,12],[0.065,0.147,13],
  [0.027,0.138,13],[0.033,0.138,12],[0.039,0.138,3],[0.045,0.138,13],[0.051,0.138,12],[0.057,0.138,2],[0.063,0.138,12],
  [0.025,0.129,16],[0.031,0.129,13],[0.037,0.129,1],[0.043,0.129,12],[0.049,0.129,2],[0.055,0.129,13],[0.061,0.129,11],[0.067,0.129,12],
  [0.023,0.120,17],[0.029,0.120,12],[0.035,0.120,14],[0.041,0.120,2],[0.047,0.120,12],[0.053,0.120,1],[0.059,0.120,13],[0.065,0.120,3],
  [0.021,0.111,18],[0.027,0.111,17],[0.033,0.111,12],[0.039,0.111,13],[0.045,0.111,3],[0.051,0.111,12],[0.057,0.111,1],[0.063,0.111,2],
  [0.019,0.102,17],[0.025,0.102,20],[0.031,0.102,16],[0.037,0.102,12],[0.043,0.102,6],[0.049,0.102,13],[0.055,0.102,2],[0.061,0.102,1],
  [0.018,0.093,18],[0.024,0.093,17],[0.030,0.093,19],[0.036,0.093,13],[0.042,0.093,7],[0.048,0.093,12],[0.054,0.093,3],[0.060,0.093,0],
  [0.017,0.084,19],[0.023,0.084,18],[0.029,0.084,17],[0.035,0.084,14],[0.041,0.084,8],[0.047,0.084,5],[0.053,0.084,2],[0.059,0.084,1],
  [0.017,0.075,17],[0.023,0.075,20],[0.029,0.075,18],[0.035,0.075,12],[0.041,0.075,6],[0.047,0.075,7],[0.053,0.075,3],[0.058,0.075,1],
  [0.017,0.066,18],[0.023,0.066,17],[0.029,0.066,19],[0.035,0.066,7],[0.041,0.066,5],[0.047,0.066,2],[0.053,0.066,0],
  [0.017,0.057,20],[0.023,0.057,18],[0.029,0.057,16],[0.035,0.057,6],[0.041,0.057,7],[0.047,0.057,4],[0.053,0.057,1],
  [0.017,0.048,17],[0.023,0.048,19],[0.029,0.048,18],[0.035,0.048,6],[0.041,0.048,5],[0.047,0.048,2],
  [0.017,0.039,18],[0.023,0.039,17],[0.029,0.039,20],[0.035,0.039,13],[0.041,0.039,6],
  [0.018,0.031,17],[0.024,0.031,18],[0.030,0.031,19],[0.036,0.031,7]
];

const FONT = "'Liberation Sans', Arial, sans-serif";

// rainbow used by the time-of-day colour scale (hour -> hue)
const hueStops = [[0, 272], [3, 238], [6.5, 185], [12, 118], [16.5, 56], [20, 28], [24, 0]];
function hourColor(h, alpha) {
  for (let i = 1; i < hueStops.length; i++) {
    if (h <= hueStops[i][0]) {
      const [h0, c0] = hueStops[i - 1];
      const [h1, c1] = hueStops[i];
      const hue = c0 + (c1 - c0) * (h - h0) / (h1 - h0);
      return `hsla(${hue.toFixed(1)},100%,50%,${alpha})`;
    }
  }
  return `hsla(0,100%,50%,${alpha})`;
}

const toXY = arr => arr.map(p => ({ x: p[0], y: p[1] }));

// short minor tick marks, drawn on the library's scales
const minorTicks = {
  id: 'minorTicks',
  afterDraw(chart, args, opts) {
    const { ctx, chartArea: a, scales: { x, y } } = chart;
    ctx.save();
    ctx.strokeStyle = '#000';
    ctx.lineWidth = 1;
    ctx.beginPath();
    opts.x.forEach(v => {
      const px = Math.round(x.getPixelForValue(v)) + 0.5;
      ctx.moveTo(px, a.bottom); ctx.lineTo(px, a.bottom + 5);
    });
    opts.y.forEach(v => {
      const py = Math.round(y.getPixelForValue(v)) + 0.5;
      ctx.moveTo(a.left, py); ctx.lineTo(a.left - 5, py);
    });
    ctx.stroke();
    ctx.restore();
  }
};

// names next to the factor squares
const factorLabels = {
  id: 'factorLabels',
  afterDatasetsDraw(chart, args, opts) {
    const { ctx, scales: { x, y } } = chart;
    ctx.save();
    ctx.font = `bold 15px ${FONT}`;
    ctx.textAlign = 'center';
    ctx.textBaseline = 'middle';
    opts.xs.forEach((v, i) => {
      const px = x.getPixelForValue(v);
      const py = y.getPixelForValue(opts.ys[i]);
      const [dx, dy] = opts.offsets[i];
      ctx.fillStyle = factorColors[i];
      ctx.fillText(factorNames[i], px + dx, py + dy);
    });
    if (opts.arrow) {
      const i = opts.arrow.index;
      const px = x.getPixelForValue(opts.xs[i]);
      const py = y.getPixelForValue(opts.ys[i]);
      const x0 = px + opts.arrow.from[0], y0 = py + opts.arrow.from[1];
      const x1 = px + opts.arrow.to[0], y1 = py + opts.arrow.to[1];
      const ang = Math.atan2(y1 - y0, x1 - x0);
      ctx.strokeStyle = '#000';
      ctx.fillStyle = '#000';
      ctx.lineWidth = 2;
      ctx.beginPath();
      ctx.moveTo(x0, y0);
      ctx.lineTo(x1 - 7 * Math.cos(ang), y1 - 7 * Math.sin(ang));
      ctx.stroke();
      ctx.beginPath();
      ctx.moveTo(x1, y1);
      ctx.lineTo(x1 - 10 * Math.cos(ang) + 4 * Math.sin(ang), y1 - 10 * Math.sin(ang) - 4 * Math.cos(ang));
      ctx.lineTo(x1 - 10 * Math.cos(ang) - 4 * Math.sin(ang), y1 - 10 * Math.sin(ang) + 4 * Math.cos(ang));
      ctx.closePath();
      ctx.fill();
    }
    ctx.restore();
  }
};

// vertical time-of-day colour bar
const colorBar = {
  id: 'colorBar',
  afterDraw(chart, args, opts) {
    if (!opts.show) return;
    const { ctx } = chart;
    const { left, top, width, height } = opts;
    const bottom = top + height;
    ctx.save();
    const grad = ctx.createLinearGradient(0, bottom, 0, top);
    for (let h = 0; h <= 24; h += 1) grad.addColorStop(h / 24, hourColor(h, 1));
    ctx.fillStyle = grad;
    ctx.fillRect(left, top, width, height);
    ctx.strokeStyle = '#000';
    ctx.lineWidth = 1;
    ctx.strokeRect(left + 0.5, top + 0.5, width - 1, height - 1);
    const right = left + width;
    ctx.beginPath();
    for (let h = 0; h <= 21; h += 3) {
      const py = Math.round(bottom - height * h / 24) + 0.5;
      ctx.moveTo(right, py);
      ctx.lineTo(right + (h % 6 === 0 ? 9 : 4), py);
    }
    ctx.stroke();
    ctx.fillStyle = '#000';
    ctx.font = `14px ${FONT}`;
    ctx.textAlign = 'left';
    ctx.textBaseline = 'middle';
    cbHours.forEach((h, i) => {
      ctx.fillText(cbLabels[i], opts.labelX, bottom - height * h / 24);
    });
    ctx.translate(opts.titleX, top + height / 2);
    ctx.rotate(Math.PI / 2);
    ctx.textAlign = 'center';
    ctx.fillText(opts.title, 0, 0);
    ctx.restore();
  }
};

function axis(min, max, majors, digits, vertical) {
  return {
    type: 'linear',
    min: min,
    max: max,
    afterBuildTicks: s => { s.ticks = majors.map(v => ({ value: v })); },
    afterFit: s => { if (vertical) s.width = 45; else s.height = 40; },
    ticks: {
      callback: v => Number(v).toFixed(digits),
      color: '#000',
      font: { family: FONT, size: 14 },
      padding: vertical ? 4 : 7,
      autoSkip: false,
      maxRotation: 0
    },
    grid: { drawOnChartArea: false, drawTicks: true, tickLength: 8, color: '#000', lineWidth: 1 },
    border: { display: true, color: '#000', width: 1 }
  };
}

function makePanel(id, p) {
  const lineSets = p.lines.map(l => ({
    data: toXY(l),
    showLine: true,
    pointRadius: 0,
    borderColor: p.lineColor,
    borderWidth: 3,
    borderDash: p.dash,
    borderCapStyle: 'round',
    order: 2
  }));
  new Chart(document.getElementById(id), {
    type: 'scatter',
    data: {
      datasets: [
        {
          data: toXY(p.cloud),
          pointStyle: 'cross',
          pointRadius: 5,
          pointBorderWidth: 1.4,
          pointBorderColor: p.cloud.map(c => hourColor(c[2], 0.9)),
          order: 3
        },
        ...lineSets,
        {
          data: p.fx.map((v, i) => ({ x: v, y: p.fy[i] })),
          pointStyle: 'rect',
          pointRadius: 9,
          pointBackgroundColor: factorColors,
          pointBorderColor: factorColors,
          pointBorderWidth: 0,
          order: 1
        }
      ]
    },
    options: {
      responsive: false,
      animation: false,
      events: [],
      layout: {
        padding: { left: p.area.left - 45, top: p.area.top, right: 635 - p.area.right, bottom: 697 - p.area.bottom - 40 }
      },
      scales: {
        x: axis(p.xMin, p.xMax, p.xTicks, p.xDigits, false),
        y: axis(p.yMin, p.yMax, p.yTicks, p.yDigits, true)
      },
      plugins: {
        legend: { display: false },
        tooltip: { enabled: false },
        minorTicks: { x: p.xMinor, y: p.yMinor },
        factorLabels: { xs: p.fx, ys: p.fy, offsets: p.offsets, arrow: p.arrow },
        colorBar: p.colorBar || { show: false }
      }
    },
    plugins: [minorTicks, factorLabels, colorBar]
  });
}

makePanel('chartA', {
  area: { left: 77, right: 295, top: 18, bottom: 287 },
  xMin: -0.00344, xMax: 0.08, yMin: -0.00346, yMax: 0.10,
  xTicks: aXTicks, yTicks: aYTicks, xMinor: aXMinor, yMinor: aYMinor, xDigits: 2, yDigits: 2,
  cloud: aCloud, fx: aFactorX, fy: aFactorY,
  lines: [aCoaLine, aHoaLine], lineColor: '#000', dash: [2.5, 6.5],
  offsets: [[29, 0], [-2, -22], [14, -20], [34, 26]],
  colorBar: { show: true, left: 215, top: 177, width: 7, height: 101, labelX: 236, titleX: 287, title: 'Time of day (BJT)' }
});

makePanel('chartB', {
  area: { left: 398, right: 616, top: 17.5, bottom: 287 },
  xMin: -0.00043, xMax: 0.010, yMin: -0.00107, yMax: 0.03,
  xTicks: bXTicks, yTicks: bYTicks, xMinor: bXMinor, yMinor: bYMinor, xDigits: 3, yDigits: 2,
  cloud: bCloud, fx: bFactorX, fy: bFactorY,
  lines: [bCoaLine, bHoaLine], lineColor: '#000', dash: [2.5, 6.5],
  offsets: [[24, -18], [31, 15], [42, -12], [46, -11]]
});

makePanel('chartC', {
  area: { left: 77, right: 295, top: 370, bottom: 642 },
  xMin: -0.00664, xMax: 0.20, yMin: -0.01027, yMax: 0.30,
  xTicks: cXTicks, yTicks: cYTicks, xMinor: cXMinor, yMinor: cYMinor, xDigits: 2, yDigits: 2,
  cloud: cCloud, fx: cFactorX, fy: cFactorY,
  lines: [cLeftLine, cRightLine], lineColor: '#808080', dash: [3, 7],
  offsets: [[-16, 20], [33, -4], [-23, -21], [23, -18]]
});

makePanel('chartD', {
  area: { left: 397, right: 612, top: 377, bottom: 642 },
  xMin: -0.00976, xMax: 0.20, yMin: -0.01176, yMax: 0.30,
  xTicks: dXTicks, yTicks: dYTicks, xMinor: dXMinor, yMinor: dYMinor, xDigits: 2, yDigits: 2,
  cloud: dCloud, fx: dFactorX, fy: dFactorY,
  lines: [dLeftLine, dRightLine], lineColor: '#808080', dash: [3, 7],
  offsets: [[5, -23], [35, 0], [86, -4], [30, -17]],
  arrow: { index: 2, from: [52, -4], to: [11, -2] },
  colorBar: { show: true, left: 539, top: 394, width: 6, height: 100, labelX: 562, titleX: 610, title: 'Time of Day (BJT)' }
});
</script>
</body>
</html>
